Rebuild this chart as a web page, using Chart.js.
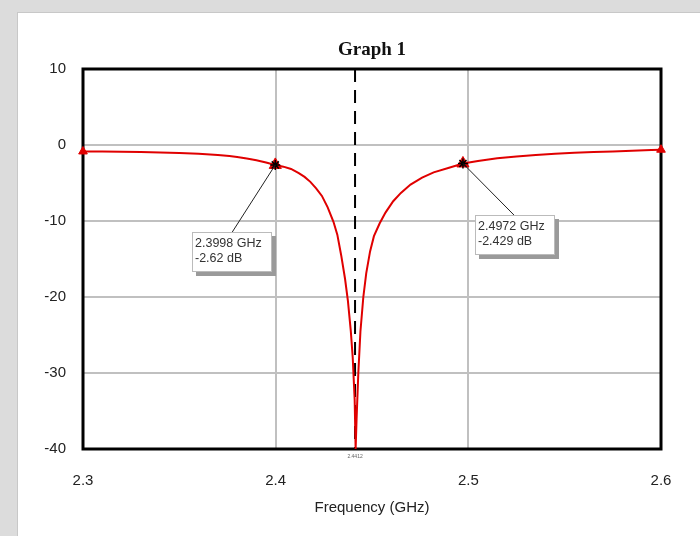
<!DOCTYPE html>
<html><head><meta charset="utf-8">
<script src="https://cdn.jsdelivr.net/npm/chart.js@4.4.1/dist/chart.umd.min.js"></script>
<style>html,body{margin:0;padding:0;background:#dcdcdc;overflow:hidden}#c{display:block}</style>
</head><body><canvas id="c" width="700" height="536"></canvas>
<script>
const freqGHz = [2.300,2.310,2.320,2.330,2.340,2.350,2.360,2.370,2.376,2.380,2.385,2.390,2.395,2.3998,2.404,2.408,2.412,2.415,2.418,2.421,2.424,2.427,2.430,2.432,2.434,2.436,2.4375,2.439,2.440,2.441,2.4415,2.4420,2.4429,2.4440,2.4455,2.447,2.449,2.451,2.454,2.457,2.461,2.465,2.470,2.476,2.482,2.490,2.4972,2.505,2.515,2.525,2.535,2.545,2.555,2.565,2.575,2.585,2.595,2.600];
const s11Db = [-0.85,-0.85,-0.88,-0.92,-0.98,-1.05,-1.15,-1.30,-1.45,-1.58,-1.78,-2.00,-2.30,-2.62,-2.85,-3.15,-3.70,-4.20,-4.85,-5.70,-6.70,-8.20,-10.1,-11.8,-14.5,-17.6,-20.5,-24.5,-28.0,-33.5,-40.0,-36.0,-30.0,-24.5,-20.0,-16.9,-14.0,-12.0,-10.3,-8.9,-7.4,-6.3,-5.2,-4.3,-3.6,-3.0,-2.43,-2.10,-1.75,-1.50,-1.30,-1.15,-1.02,-0.93,-0.85,-0.76,-0.67,-0.62];
const markerFreq = [2.3998, 2.4972];
const markerDb = [-2.62, -2.429];
const markerLabels = [["2.3998 GHz","-2.62 dB"],["2.4972 GHz","-2.429 dB"]];
const endFreq = [2.300, 2.600];
const endDb = [-0.85, -0.62];
const centerFreq = 2.4412;
const centerLabel = "2.4412";
const xTicks = [2.3, 2.4, 2.5, 2.6];
const yTicks = [10, 0, -10, -20, -30, -40];
const chartTitle = "Graph 1";
const xTitle = "Frequency (GHz)";

const pts = (xs, ys) => xs.map((x, i) => ({x, y: ys[i]}));

const decor = {
  id: 'decor',
  beforeDraw(chart) {
    const ctx = chart.ctx;
    ctx.save();
    ctx.fillStyle = '#dcdcdc';
    ctx.fillRect(0, 0, 700, 536);
    ctx.fillStyle = '#ffffff';
    ctx.fillRect(18, 13, 682, 523);
    ctx.strokeStyle = '#c8c8c8';
    ctx.lineWidth = 1;
    ctx.strokeRect(17.5, 12.5, 690, 530);
    ctx.restore();
  },
  beforeDatasetsDraw(chart) {
    const {ctx, chartArea: a} = chart;
    ctx.save();
    ctx.strokeStyle = '#000';
    ctx.lineWidth = 3;
    ctx.strokeRect(a.left, a.top, a.right - a.left, a.bottom - a.top);
    ctx.restore();
  },
  afterDraw(chart) {
    const {ctx, chartArea: a, scales: {x, y}} = chart;
    ctx.save();
    ctx.fillStyle = '#111';
    ctx.font = 'bold 19px "Liberation Serif", serif';
    ctx.textAlign = 'center';
    ctx.textBaseline = 'alphabetic';
    ctx.fillText(chartTitle, (a.left + a.right) / 2, 55);
    ctx.font = '15px "Liberation Sans", Arial, sans-serif';
    ctx.fillStyle = '#222';
    ctx.textBaseline = 'middle';
    ctx.fillText(xTitle, (a.left + a.right) / 2, 508);
    ctx.font = '5px "Liberation Sans", Arial, sans-serif';
    ctx.fillStyle = '#666';
    ctx.fillText(centerLabel, x.getPixelForValue(centerFreq), a.bottom + 8);
    const offs = [{bx: -83, by: 67, lx: -43}, {bx: 12, by: 52, lx: 51}];
    markerFreq.forEach((f, i) => {
      const px = x.getPixelForValue(f), py = y.getPixelForValue(markerDb[i]);
      const o = offs[i];
      const bx = Math.round(px + o.bx), by = Math.round(py + o.by);
      const w = 80, h = 40;
      ctx.strokeStyle = '#222';
      ctx.lineWidth = 1;
      ctx.beginPath();
      ctx.moveTo(px, py);
      ctx.lineTo(px + o.lx, by);
      ctx.stroke();
      ctx.fillStyle = '#9a9a9a';
      ctx.fillRect(bx + 4, by + 4, w, h);
      ctx.fillStyle = '#fff';
      ctx.fillRect(bx, by, w, h);
      ctx.strokeStyle = '#bbb';
      ctx.strokeRect(bx + 0.5, by + 0.5, w - 1, h - 1);
      ctx.fillStyle = '#333';
      ctx.font = '12.5px "Liberation Sans", Arial, sans-serif';
      ctx.textAlign = 'left';
      ctx.textBaseline = 'middle';
      ctx.fillText(markerLabels[i][0], bx + 3, by + 12);
      ctx.fillText(markerLabels[i][1], bx + 3, by + 27);
    });
    ctx.restore();
  }
};

new Chart(document.getElementById('c'), {
  type: 'scatter',
  data: {
    datasets: [
      {data: pts([centerFreq, centerFreq], [10, -40]), showLine: true, borderColor: '#000', borderWidth: 2, borderDash: [13, 8], pointRadius: 0, order: 3},
      {data: pts(freqGHz, s11Db), showLine: true, borderColor: '#e00000', borderWidth: 2, pointRadius: 0, tension: 0, order: 2},
      {data: pts(endFreq, endDb), pointStyle: 'triangle', pointRadius: 5, backgroundColor: '#e00000', borderColor: '#e00000', order: 1},
      {data: pts(markerFreq, markerDb), pointStyle: 'triangle', pointRadius: 7, backgroundColor: '#e00000', borderColor: '#e00000', order: 1},
      {data: pts(markerFreq, markerDb), pointStyle: 'star', pointRadius: 5, borderWidth: 1.5, borderColor: '#000', backgroundColor: '#000', order: 0}
    ]
  },
  options: {
    responsive: false,
    animation: false,
    events: [],
    clip: false,
    layout: {padding: {left: 0, right: 39, top: 69, bottom: 0}},
    plugins: {legend: {display: false}, tooltip: {enabled: false}, title: {display: false}},
    scales: {
      x: {
        type: 'linear', min: 2.3, max: 2.6,
        afterBuildTicks: s => { s.ticks = xTicks.map(v => ({value: v})); },
        afterFit: s => { s.height = 87; },
        ticks: {padding: 23, color: '#222', font: {family: '"Liberation Sans", Arial, sans-serif', size: 15}, callback: v => v.toFixed(1), maxRotation: 0},
        grid: {color: '#c0c0c0', lineWidth: 2, drawTicks: false},
        border: {display: false}
      },
      y: {
        min: -40, max: 10,
        afterBuildTicks: s => { s.ticks = yTicks.map(v => ({value: v})); },
        afterFit: s => { s.width = 83; },
        ticks: {padding: 17, color: '#222', font: {family: '"Liberation Sans", Arial, sans-serif', size: 15}},
        grid: {color: '#c0c0c0', lineWidth: 2, drawTicks: false},
        border: {display: false}
      }
    }
  },
  plugins: [decor]
});
</script>
</body></html>
